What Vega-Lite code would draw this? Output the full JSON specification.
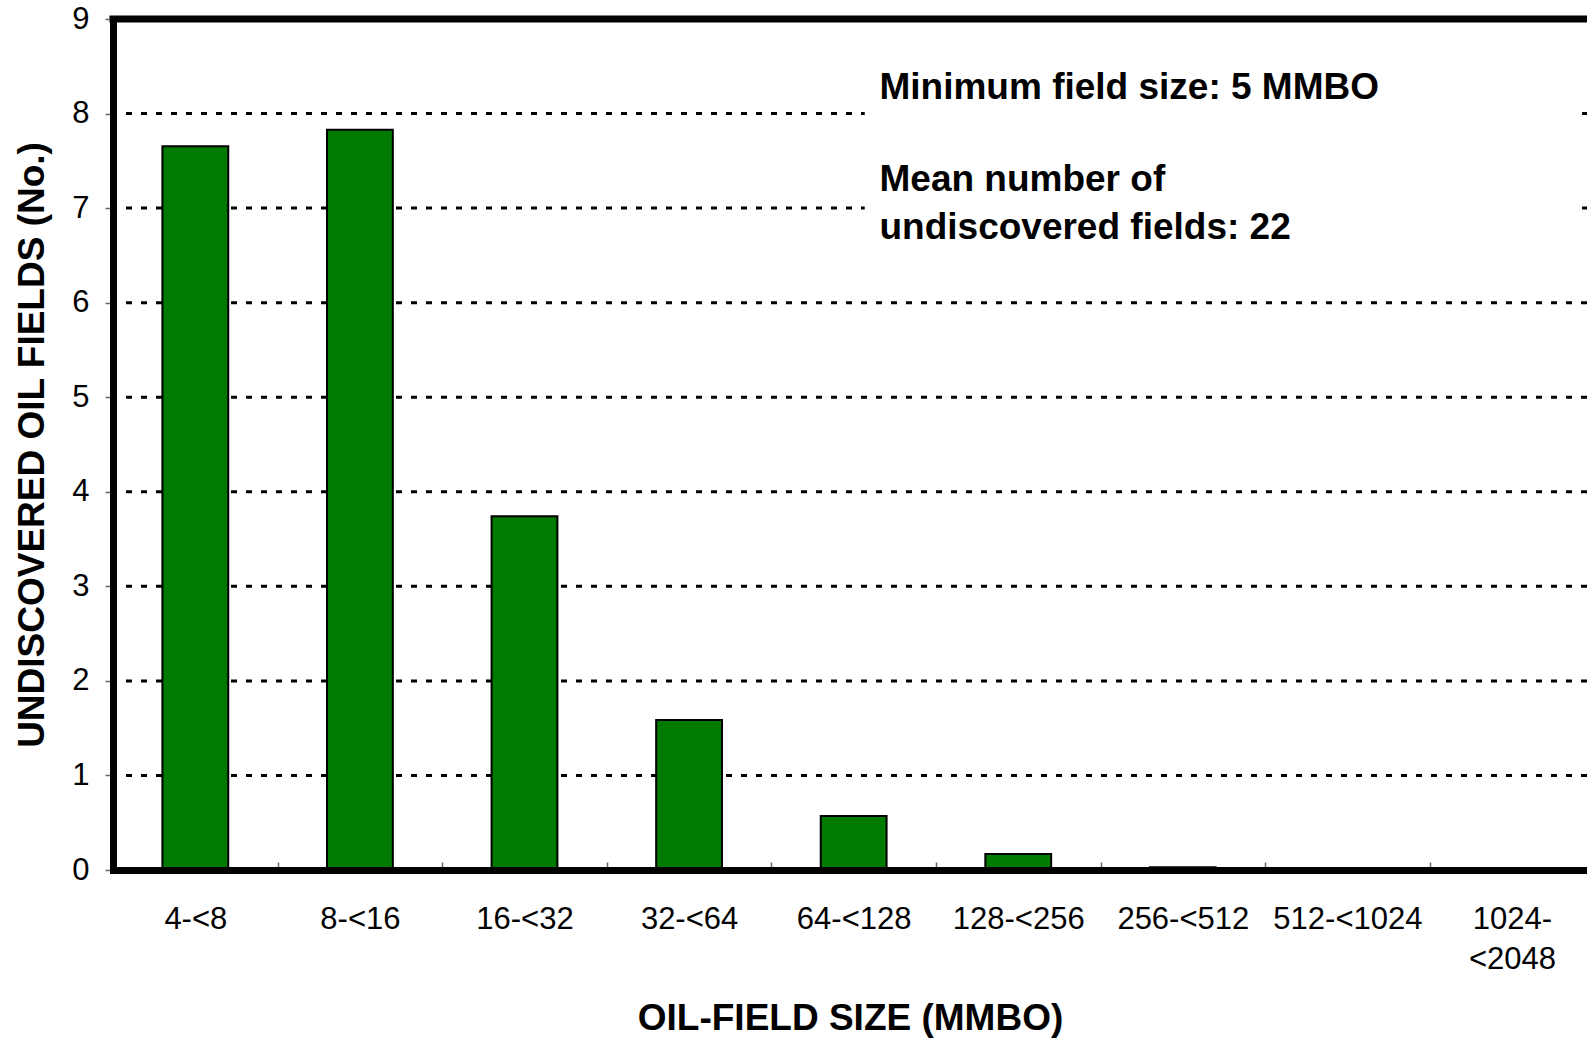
{
  "$schema": "https://vega.github.io/schema/vega-lite/v6.json",
  "width": 1474,
  "height": 851,
  "autosize": {"type": "none"},
  "padding": {"left": 113, "top": 19, "right": 0, "bottom": 168},
  "background": "white",
  "config": {
    "font": "Liberation Sans",
    "view": {"stroke": null}
  },
  "datasets": {
    "fields": [
      {"size": "4-<8", "count": 7.655},
      {"size": "8-<16", "count": 7.83},
      {"size": "16-<32", "count": 3.74},
      {"size": "32-<64", "count": 1.586},
      {"size": "64-<128", "count": 0.571},
      {"size": "128-<256", "count": 0.169},
      {"size": "256-<512", "count": 0.03},
      {"size": "512-<1024", "count": 0},
      {"size": "1024-<2048", "count": 0}
    ],
    "grid": [{"v": 1}, {"v": 2}, {"v": 3}, {"v": 4}, {"v": 5}, {"v": 6}, {"v": 7}, {"v": 8}]
  },
  "resolve": {"scale": {"x": "independent"}, "axis": {"x": "independent"}},
  "layer": [
    {
      "data": {"name": "grid"},
      "mark": {"type": "rule", "color": "black", "strokeWidth": 3, "strokeDash": [6, 9]},
      "encoding": {
        "y": {"field": "v", "type": "quantitative", "scale": {"domain": [0, 9]}}
      }
    },
    {
      "data": {"values": [{}]},
      "mark": {"type": "rect", "fill": "white"},
      "encoding": {
        "x": {"datum": 4.59, "type": "quantitative", "scale": {"domain": [0, 9]}, "axis": null},
        "x2": {"datum": 8.97},
        "y": {"datum": 6.45, "type": "quantitative"},
        "y2": {"datum": 8.8}
      }
    },
    {
      "data": {"name": "fields"},
      "mark": {"type": "bar", "fill": "#007a00", "stroke": "black", "strokeWidth": 2},
      "encoding": {
        "x": {
          "field": "size",
          "type": "nominal",
          "sort": null,
          "scale": {"paddingInner": 0.6, "paddingOuter": 0.278, "align": 0.54},
          "axis": {
            "title": "OIL-FIELD SIZE (MMBO)",
            "titleFont": "Liberation Sans",
            "titleFontSize": 37,
            "titleFontWeight": "bold",
            "titleColor": "black",
            "titlePadding": 26,
            "labelAngle": 0,
            "labelFontSize": 31,
            "labelColor": "black",
            "labelPadding": 42,
            "labelLineHeight": 40,
            "labelExpr": "datum.value == '1024-<2048' ? ['1024-', '<2048'] : datum.value",
            "bandPosition": 0,
            "tickOffset": -49.4,
            "labelOffset": 49.4,
            "tickSize": -8,
            "tickColor": "#666666",
            "tickWidth": 1.5,
            "domainColor": "black",
            "domainWidth": 7,
            "domainCap": "square",
            "grid": false,
            "zindex": 1
          }
        },
        "y": {
          "field": "count",
          "type": "quantitative",
          "scale": {"domain": [0, 9], "nice": false},
          "axis": {
            "title": "UNDISCOVERED OIL FIELDS (No.)",
            "titleFont": "Liberation Sans",
            "titleFontSize": 37,
            "titleFontWeight": "bold",
            "titleColor": "black",
            "titlePadding": 20,
            "values": [0, 1, 2, 3, 4, 5, 6, 7, 8, 9],
            "format": "d",
            "labelFontSize": 31,
            "labelColor": "black",
            "labelPadding": 16,
            "tickSize": 8,
            "tickColor": "#666666",
            "tickWidth": 1.5,
            "domainColor": "black",
            "domainWidth": 7,
            "domainCap": "square",
            "grid": false,
            "zindex": 1
          }
        }
      }
    },
    {
      "data": {"values": [{}]},
      "mark": {"type": "rule", "color": "black", "strokeWidth": 7, "strokeCap": "square"},
      "encoding": {"y": {"datum": 9, "type": "quantitative"}}
    },
    {
      "data": {"values": [{}]},
      "mark": {"type": "text", "align": "left", "baseline": "middle", "fontSize": 37, "fontWeight": "bold", "color": "black", "font": "Liberation Sans"},
      "encoding": {
        "x": {"datum": 4.68, "type": "quantitative", "scale": {"domain": [0, 9]}, "axis": null},
        "y": {"datum": 8.27, "type": "quantitative"},
        "text": {"value": "Minimum field size: 5 MMBO"}
      }
    },
    {
      "data": {"values": [{}]},
      "mark": {"type": "text", "align": "left", "baseline": "middle", "fontSize": 37, "fontWeight": "bold", "color": "black", "font": "Liberation Sans"},
      "encoding": {
        "x": {"datum": 4.68, "type": "quantitative", "scale": {"domain": [0, 9]}, "axis": null},
        "y": {"datum": 7.3, "type": "quantitative"},
        "text": {"value": "Mean number of"}
      }
    },
    {
      "data": {"values": [{}]},
      "mark": {"type": "text", "align": "left", "baseline": "middle", "fontSize": 37, "fontWeight": "bold", "color": "black", "font": "Liberation Sans"},
      "encoding": {
        "x": {"datum": 4.68, "type": "quantitative", "scale": {"domain": [0, 9]}, "axis": null},
        "y": {"datum": 6.79, "type": "quantitative"},
        "text": {"value": "undiscovered fields: 22"}
      }
    }
  ]
}
